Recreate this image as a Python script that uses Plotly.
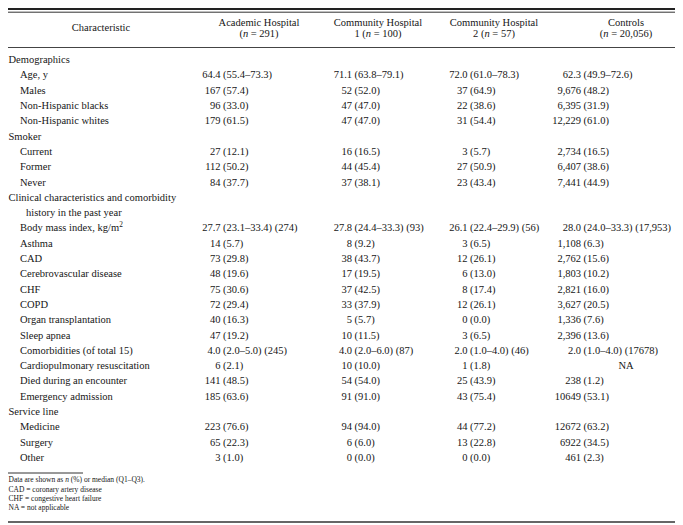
import plotly.graph_objects as go

# ---------------- data ----------------
stub_header = "Characteristic"
header_line1 = ["Academic Hospital", "Community Hospital", "Community Hospital", "Controls"]
header_line2 = ["(<i>n</i> = 291)", "1 (<i>n</i> = 100)", "2 (<i>n</i> = 57)", "(<i>n</i> = 20,056)"]

section_titles = [
    ["Demographics"],
    ["Smoker"],
    ["Clinical characteristics and comorbidity", "history in the past year"],
    ["Service line"],
]
section_items = [
    ["Age, y", "Males", "Non-Hispanic blacks", "Non-Hispanic whites"],
    ["Current", "Former", "Never"],
    ["Body mass index, kg/m<sup>2</sup>", "Asthma", "CAD", "Cerebrovascular disease", "CHF", "COPD",
     "Organ transplantation", "Sleep apnea", "Comorbidities (of total 15)",
     "Cardiopulmonary resuscitation", "Died during an encounter", "Emergency admission"],
    ["Medicine", "Surgery", "Other"],
]

academic = ["64.4 (55.4–73.3)", "167 (57.4)", "96 (33.0)", "179 (61.5)",
            "27 (12.1)", "112 (50.2)", "84 (37.7)",
            "27.7 (23.1–33.4) (274)", "14 (5.7)", "73 (29.8)", "48 (19.6)", "75 (30.6)", "72 (29.4)",
            "40 (16.3)", "47 (19.2)", "4.0 (2.0–5.0) (245)", "6 (2.1)", "141 (48.5)", "185 (63.6)",
            "223 (76.6)", "65 (22.3)", "3 (1.0)"]
community1 = ["71.1 (63.8–79.1)", "52 (52.0)", "47 (47.0)", "47 (47.0)",
              "16 (16.5)", "44 (45.4)", "37 (38.1)",
              "27.8 (24.4–33.3) (93)", "8 (9.2)", "38 (43.7)", "17 (19.5)", "37 (42.5)", "33 (37.9)",
              "5 (5.7)", "10 (11.5)", "4.0 (2.0–6.0) (87)", "10 (10.0)", "54 (54.0)", "91 (91.0)",
              "94 (94.0)", "6 (6.0)", "0 (0.0)"]
community2 = ["72.0 (61.0–78.3)", "37 (64.9)", "22 (38.6)", "31 (54.4)",
              "3 (5.7)", "27 (50.9)", "23 (43.4)",
              "26.1 (22.4–29.9) (56)", "3 (6.5)", "12 (26.1)", "6 (13.0)", "8 (17.4)", "12 (26.1)",
              "0 (0.0)", "3 (6.5)", "2.0 (1.0–4.0) (46)", "1 (1.8)", "25 (43.9)", "43 (75.4)",
              "44 (77.2)", "13 (22.8)", "0 (0.0)"]
controls = ["62.3 (49.9–72.6)", "9,676 (48.2)", "6,395 (31.9)", "12,229 (61.0)",
            "2,734 (16.5)", "6,407 (38.6)", "7,441 (44.9)",
            "28.0 (24.0–33.3) (17,953)", "1,108 (6.3)", "2,762 (15.6)", "1,803 (10.2)", "2,821 (16.0)",
            "3,627 (20.5)", "1,336 (7.6)", "2,396 (13.6)", "2.0 (1.0–4.0) (17678)", "NA",
            "238 (1.2)", "10649 (53.1)",
            "12672 (63.2)", "6922 (34.5)", "461 (2.3)"]

footnotes = [
    "Data are shown as <i>n</i> (%) or median (Q1–Q3).",
    "CAD = coronary artery disease",
    "CHF = congestive heart failure",
    "NA = not applicable",
]

# ---------------- layout constants ----------------
W, H = 683, 525
ROW0, ROW_H = 52.5, 15.3
X_SECTION, X_ITEM, X_CONT = 0.5, 12, 18
COL_ANCHOR = [212.5, 344, 459.5, 573]
COL_CENTER = [251, 370, 486, 618]
STUB_CENTER = 93
HEAD_Y1, HEAD_Y2, STUB_HEAD_Y = 15.3, 26.5, 20.8
FOOT_Y0, FOOT_H = 472.5, 9.3
SPACE = 2.6
FONT = "Liberation Serif, Times New Roman, serif"
FS = 10.5
FS_FOOT = 7.5
TXT = "#161616"

# ---------------- build row positions ----------------
stub_x, stub_y, stub_t = [], [], []
item_rows = []
r = 0
for titles, items in zip(section_titles, section_items):
    for k, t in enumerate(titles):
        stub_x.append(X_SECTION if k == 0 else X_CONT)
        stub_y.append(ROW0 + ROW_H * r)
        stub_t.append(t)
        r += 1
    for it in items:
        stub_x.append(X_ITEM)
        stub_y.append(ROW0 + ROW_H * r)
        stub_t.append(it)
        item_rows.append(r)
        r += 1

fig = go.Figure()

def add_text(xs, ys, texts, pos, size=FS):
    fig.add_trace(go.Scatter(
        x=xs, y=ys, text=texts, mode="text", textposition=pos,
        textfont=dict(family=FONT, size=size, color=TXT),
        hoverinfo="skip", showlegend=False, cliponaxis=False))

# stub column
add_text(stub_x, stub_y, stub_t, "middle right")

# headers
add_text([STUB_CENTER], [STUB_HEAD_Y], [stub_header], "middle center")
add_text(COL_CENTER, [HEAD_Y1] * 4, header_line1, "middle center")
add_text(COL_CENTER, [HEAD_Y2] * 4, header_line2, "middle center")

# data columns
for ci, col in enumerate([academic, community1, community2, controls]):
    fx, fy, ft = [], [], []
    rx, ry, rt = [], [], []
    cx, cy, ct = [], [], []
    for row, val in zip(item_rows, col):
        y = ROW0 + ROW_H * row
        if " " in val:
            first, rest = val.split(" ", 1)
            fx.append(COL_ANCHOR[ci]); fy.append(y); ft.append(first)
            rx.append(COL_ANCHOR[ci] + SPACE); ry.append(y); rt.append(rest)
        else:
            cx.append(COL_CENTER[ci]); cy.append(y); ct.append(val)
    add_text(fx, fy, ft, "middle left")
    add_text(rx, ry, rt, "middle right")
    if ct:
        add_text(cx, cy, ct, "middle center")

# footnotes
add_text([0.5] * len(footnotes), [FOOT_Y0 + FOOT_H * i for i in range(len(footnotes))],
         footnotes, "middle right", size=FS_FOOT)

# rules
shapes = [
    dict(type="line", x0=0, x1=W, y0=1, y1=1, line=dict(color="#222", width=2)),
    dict(type="line", x0=0, x1=W, y0=4.2, y1=4.2, line=dict(color="#333", width=1)),
    dict(type="line", x0=0, x1=W, y0=39.5, y1=39.5, line=dict(color="#444", width=1.2)),
    dict(type="line", x0=0, x1=75, y0=465, y1=465, line=dict(color="#333", width=1)),
    dict(type="line", x0=0, x1=W, y0=514, y1=514, line=dict(color="#666", width=2)),
]
for s in shapes:
    s.update(xref="x", yref="y", layer="above")

fig.update_layout(
    width=W, height=H,
    margin=dict(l=0, r=0, t=0, b=0),
    paper_bgcolor="white", plot_bgcolor="white",
    showlegend=False, shapes=shapes,
    xaxis=dict(range=[0, W], visible=False, fixedrange=True),
    yaxis=dict(range=[H, 0], visible=False, fixedrange=True),
)

fig.write_html("out.html")
